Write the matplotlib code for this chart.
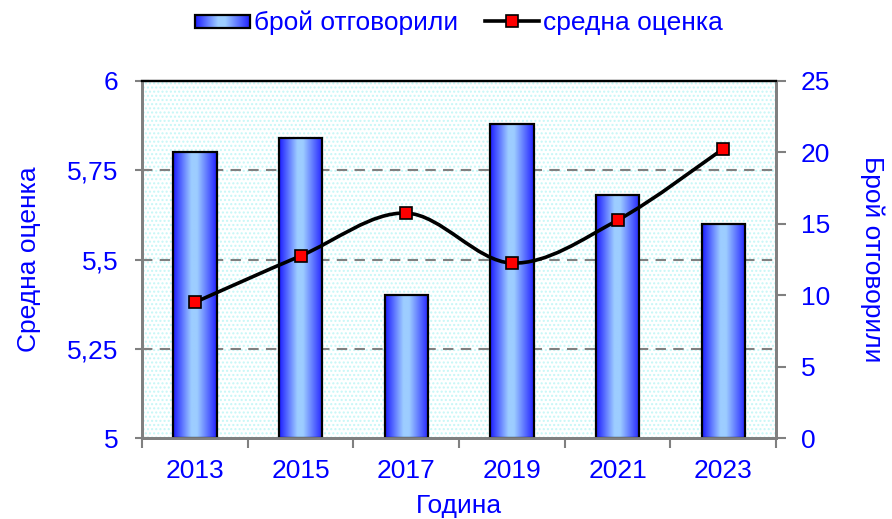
import numpy as np
import matplotlib
matplotlib.use("Agg")
import matplotlib.pyplot as plt
import matplotlib.path as mpath
import matplotlib.patches as mpatches
from matplotlib.colors import LinearSegmentedColormap
from matplotlib.transforms import blended_transform_factory, Bbox, TransformedBbox
from matplotlib.lines import Line2D
from matplotlib.legend_handler import HandlerBase
from matplotlib.image import BboxImage

plt.rcParams['font.family'] = ['Liberation Sans', 'DejaVu Sans']

years = ['2013', '2015', '2017', '2019', '2021', '2023']
respondents = [20, 21, 10, 22, 17, 15]
avg_score = [5.38, 5.51, 5.63, 5.49, 5.61, 5.81]
score_ticks = [5, 5.25, 5.5, 5.75, 6]
score_labels = ['5', '5,25', '5,5', '5,75', '6']
count_ticks = [0, 5, 10, 15, 20, 25]

BLUE = '#0000ff'
GREY = '#808080'
FS = 19

cmap = LinearSegmentedColormap.from_list(
    'bar', [(0, '#1c1cff'), (0.42, '#9dcdff'), (0.55, '#9dcdff'), (1, '#2222ff')])
grad = np.linspace(0, 1, 256).reshape(1, -1)


class GradHandler(HandlerBase):
    def create_artists(self, legend, orig_handle, xdescent, ydescent,
                       width, height, fontsize, trans):
        h = height * 0.7
        y0 = -ydescent + (height - h) / 2
        bb = TransformedBbox(Bbox.from_bounds(-xdescent, y0, width, h), trans)
        img = BboxImage(bb, cmap=cmap, interpolation='bilinear')
        img.set_data(grad)
        rect = mpatches.Rectangle((-xdescent, y0), width, h, facecolor='none',
                                  edgecolor='black', lw=1.6, transform=trans)
        return [img, rect]


fig = plt.figure(figsize=(8.92, 5.19), dpi=100)
ax = fig.add_axes([0.1592, 0.156, 0.7108, 0.688])
ax2 = ax.twinx()
ax.set_zorder(2)
ax2.set_zorder(1)
ax.patch.set_visible(False)

# background with dotted pattern
ax2.patch.set_facecolor('#f5ffff')
bg = mpatches.Rectangle((0, 0), 1, 1, transform=ax2.transAxes, facecolor='none',
                        edgecolor='#c6f7f7', hatch='....', linewidth=0, zorder=0)
ax2.add_patch(bg)

x = np.arange(len(years))

# grid lines (left axis values) drawn behind bars
tr = blended_transform_factory(ax2.transAxes, ax.transData)
for v in score_ticks[1:-1]:
    ax2.plot([0, 1], [v, v], transform=tr, color=GREY, lw=1.5,
             dashes=(5, 3.5), zorder=1)

# gradient bars
bw = 0.41
bars = ax2.bar(x, respondents, width=bw, facecolor='none', edgecolor='black',
               linewidth=1.6, zorder=3)
for b in bars:
    im = ax2.imshow(grad, cmap=cmap, aspect='auto', interpolation='bilinear',
                    extent=(b.get_x(), b.get_x() + b.get_width(), 0, b.get_height()),
                    zorder=2)
    im.set_clip_path(b)

# smoothed line (Excel-like bezier through the points)
pts = np.column_stack([x, avg_score])
verts = [pts[0]]
codes = [mpath.Path.MOVETO]
for i in range(len(pts) - 1):
    p0 = pts[i - 1] if i > 0 else pts[i]
    p1, p2 = pts[i], pts[i + 1]
    p3 = pts[i + 2] if i + 2 < len(pts) else pts[i + 1]
    c1 = p1 + (p2 - p0) / 6
    c2 = p2 - (p3 - p1) / 6
    verts += [c1, c2, p2]
    codes += [mpath.Path.CURVE4] * 3
ax.add_patch(mpatches.PathPatch(mpath.Path(verts, codes), facecolor='none',
                                edgecolor='black', lw=2.6, zorder=3))
ax.plot(x, avg_score, ls='none', marker='s', ms=9, mfc='red', mec='black',
        mew=1.2, zorder=4)

ax.set_xlim(-0.5, len(years) - 0.5)
ax2.set_xlim(-0.5, len(years) - 0.5)
ax.set_ylim(5, 6)
ax2.set_ylim(0, 25)

ax.set_yticks(score_ticks)
ax.set_yticklabels(score_labels)
ax2.set_yticks(count_ticks)
ax.set_xticks(x)
ax.set_xticklabels(years)
ax.set_xticks(np.arange(-0.5, len(years)), minor=True)

ax.tick_params(axis='x', which='major', length=0, labelsize=FS, labelcolor=BLUE, pad=15)
ax.tick_params(axis='x', which='minor', length=7, width=1.5, color=GREY, direction='out')
ax.tick_params(axis='y', length=10, width=1.5, color=GREY, direction='inout',
               labelsize=FS, labelcolor=BLUE, pad=12)
ax2.tick_params(axis='y', length=7, width=1.5, color=GREY, direction='out',
                labelsize=FS, labelcolor=BLUE, pad=11)

for a in (ax, ax2):
    for s in ('left', 'right', 'bottom'):
        a.spines[s].set_color(GREY)
        a.spines[s].set_linewidth(2)
    a.spines['top'].set_color('black')
    a.spines['top'].set_linewidth(1.6)

ax.set_ylabel('Средна оценка', color=BLUE, fontsize=FS, labelpad=19)
ax2.set_ylabel('Брой отговорили', color=BLUE, fontsize=FS, rotation=270,
               labelpad=21, va='bottom')
ax.set_xlabel('Година', color=BLUE, fontsize=FS, labelpad=8)

handles = [mpatches.Patch(), Line2D([], [], color='black', lw=2.6, marker='s', ms=9,
                                    mfc='red', mec='black', mew=1.2)]
fig.legend(handles, ['брой отговорили', 'средна оценка'], loc='upper center',
           bbox_to_anchor=(0.515, 1.025), ncol=2, frameon=False, fontsize=FS,
           labelcolor=BLUE, handlelength=2.05, handletextpad=0.15, columnspacing=1.05,
           handler_map={mpatches.Patch: GradHandler()})

fig.savefig('out.png', dpi=100)
